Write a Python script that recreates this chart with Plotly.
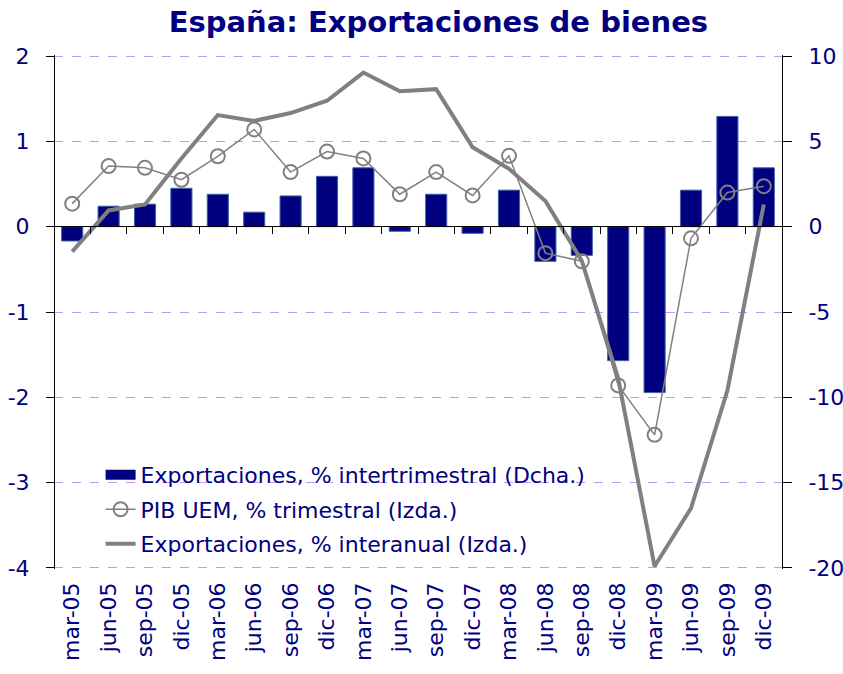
import plotly.graph_objects as go

categories = ["mar-05", "jun-05", "sep-05", "dic-05", "mar-06", "jun-06", "sep-06", "dic-06",
              "mar-07", "jun-07", "sep-07", "dic-07", "mar-08", "jun-08", "sep-08", "dic-08",
              "mar-09", "jun-09", "sep-09", "dic-09"]

# Exportaciones, % intertrimestral (right scale)
export_qoq = [-0.84, 1.2, 1.32, 2.25, 1.9, 0.85, 1.8, 2.95, 3.45, -0.27, 1.9, -0.39, 2.14,
              -2.03, -1.68, -7.85, -9.72, 2.14, 6.46, 3.45]

# PIB UEM, % trimestral (left scale)
pib_uem = [0.27, 0.71, 0.69, 0.55, 0.825, 1.14, 0.64, 0.88, 0.80, 0.38, 0.64, 0.366, 0.83,
           -0.31, -0.405, -1.86, -2.44, -0.137, 0.40, 0.475]

# Exportaciones, % interanual (drawn against right scale)
export_yoy = [-1.46, 0.95, 1.3, 4.0, 6.54, 6.2, 6.66, 7.38, 9.03, 7.94, 8.06, 4.65, 3.39,
              1.5, -2.0, -8.9, -19.9, -16.5, -9.6, 1.3]

left_ticks = [-4, -3, -2, -1, 0, 1, 2]
right_ticks = [-20, -15, -10, -5, 0, 5, 10]

NAVY = "#000080"
GRAY = "#808080"
GRID = "#BC9CF2"
FONT = "DejaVu Sans"

fig = go.Figure()

# legend proxy for the bars (wide navy swatch)
fig.add_trace(go.Scatter(
    x=[None], y=[None], xaxis="x", yaxis="y", mode="lines",
    name="Exportaciones, % intertrimestral (Dcha.)", legendgroup="g1",
    line=dict(color=NAVY, width=13), legendrank=1,
))
fig.add_trace(go.Bar(
    x=categories, y=export_qoq, xaxis="x", yaxis="y",
    name="Exportaciones, % intertrimestral (Dcha.)", showlegend=False, legendgroup="g1",
    marker=dict(color=NAVY, line=dict(color="#4060A8", width=1)),
))
fig.add_trace(go.Scatter(
    x=categories, y=export_yoy, xaxis="x", yaxis="y",
    name="Exportaciones, % interanual (Izda.)", mode="lines", legendgroup="g3",
    line=dict(color=GRAY, width=4), legendrank=3,
))
fig.add_trace(go.Scatter(
    x=categories, y=pib_uem, xaxis="x2", yaxis="y2",
    name="PIB UEM, % trimestral (Izda.)", mode="lines+markers", legendgroup="g2",
    line=dict(color=GRAY, width=1.5), legendrank=2,
    marker=dict(symbol="circle-open", size=14, color=GRAY, line=dict(width=2, color=GRAY)),
))

eps_r = 0.06
eps_l = eps_r / 5
xr = [-0.5, len(categories) - 0.5]

fig.update_layout(
    width=843, height=674,
    margin=dict(l=54, r=61, t=55, b=105),
    paper_bgcolor="white", plot_bgcolor="white",
    font=dict(family=FONT, color=NAVY, size=22),
    title=dict(text="<b>España: Exportaciones de bienes</b>", x=0.52, xanchor="center",
               y=0.967, yanchor="middle",
               font=dict(family=FONT, size=29, color=NAVY)),
    bargap=0.42,
    showlegend=True,
    legend=dict(x=0.064, y=0.224, xanchor="left", yanchor="top",
                bgcolor="rgba(0,0,0,0)", font=dict(family=FONT, size=22, color=NAVY),
                tracegroupgap=3, itemwidth=30, traceorder="grouped"),
    # base category axis: sits on the zero line, ticks between categories
    xaxis=dict(type="category", categoryorder="array", categoryarray=categories,
               range=xr, anchor="free", position=4/6, automargin=False,
               showline=True, linecolor="black", linewidth=1,
               ticks="outside", ticklen=7, tickcolor="black", tickson="boundaries",
               showticklabels=False, showgrid=False, zeroline=False),
    # overlay category axis: carries the rotated labels at the bottom
    xaxis2=dict(type="category", categoryorder="array", categoryarray=categories,
                range=xr, overlaying="x", anchor="free", position=0, side="bottom",
                automargin=False, showline=False, ticks="", showgrid=False, zeroline=False,
                tickangle=-90, tickfont=dict(family=FONT, size=22, color=NAVY),
                ticklabelstandoff=8),
    # right scale (base)
    yaxis=dict(range=[-20 - eps_r, 10 + eps_r], tickvals=right_ticks,
               ticktext=[str(v) for v in right_ticks], side="right", anchor="x",
               automargin=False, showline=True, linecolor="black", linewidth=1,
               ticks="outside", ticklen=9, tickcolor="black",
               showgrid=True, gridcolor=GRID, griddash="dash", gridwidth=1,
               zeroline=False, ticklabelstandoff=12,
               tickfont=dict(family=FONT, size=22, color=NAVY)),
    # left scale (overlay)
    yaxis2=dict(range=[-4 - eps_l, 2 + eps_l], tickvals=left_ticks,
                ticktext=[str(v) for v in left_ticks], side="left",
                overlaying="y", anchor="free", position=0, automargin=False,
                showline=True, linecolor="black", linewidth=1,
                ticks="outside", ticklen=8, tickcolor="black",
                showgrid=False, zeroline=False, ticklabelstandoff=12,
                tickfont=dict(family=FONT, size=22, color=NAVY)),
)

fig.write_html("out.html", config={"displayModeBar": False},
               post_script="document.body.style.margin='0';document.body.style.padding='0';")
